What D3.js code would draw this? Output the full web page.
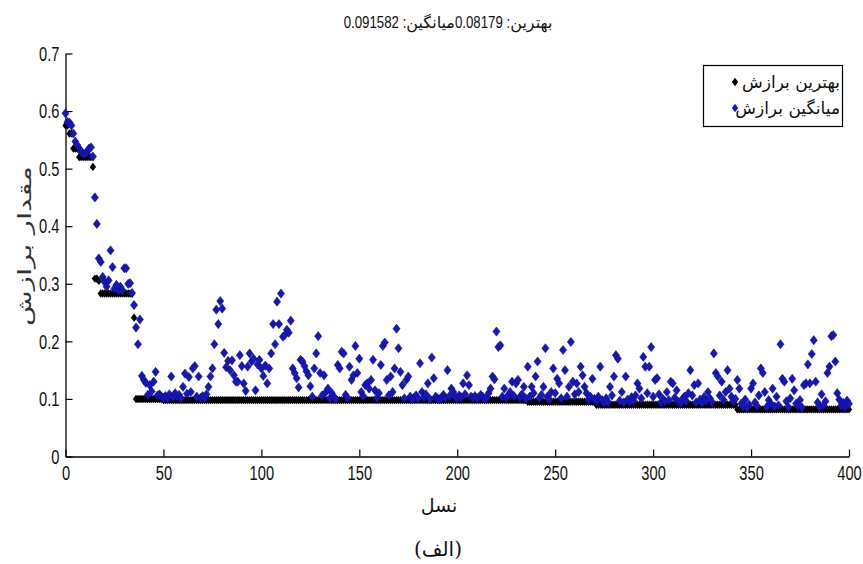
<!DOCTYPE html>
<html><head><meta charset="utf-8">
<script src="https://cdn.jsdelivr.net/npm/d3@7"></script>
<style>body{margin:0;background:#fff}svg{display:block}</style>
</head><body>
<svg id="chart" width="863" height="564"></svg>
<script>
// ---------- data ----------
const xTicks = [0, 50, 100, 150, 200, 250, 300, 350, 400];
const yTicks = [0, 0.1, 0.2, 0.3, 0.4, 0.5, 0.6, 0.7];
const yTickLabels = ["0", "0.1", "0.2", "0.3", "0.4", "0.5", "0.6", "0.7"];
// title "بهترین: 0.08179 میانگین: 0.091582", pieces in on-screen (left-to-right) order
const titleParts = ["0.091582", " :", "میانگین", "0.08179", " :", "بهترین"];
const yLabel = "مقدار برازش";
const xLabel = "نسل";
const caption = "(الف)";
const seriesNames = ["بهترین برازش", "میانگین برازش"];

// best fitness per generation (0..400)
const bestFitness = [
  .575,.575,.561,.561,.535,.535,.535,.520,.520,.520,
  .520,.520,.520,.520,.503,.309,.309,.305,.283,.283,
  .283,.283,.283,.283,.283,.283,.283,.283,.283,.283,
  .283,.283,.283,.283,.283,.241,.100,.100,.100,.100,
  .100,.100,.100,.100,.100,.100,.100,.100,.100,.100,
  .098,.098,.098,.098,.098,.098,.098,.098,.098,.098,
  .098,.098,.098,.098,.098,.098,.098,.098,.098,.098,
  .098,.098,.098,.098,.098,.098,.098,.098,.098,.098,
  .098,.098,.098,.098,.098,.098,.098,.098,.098,.098,
  .098,.098,.098,.098,.098,.098,.098,.098,.098,.098,
  .098,.098,.098,.098,.098,.098,.098,.098,.098,.098,
  .098,.098,.098,.098,.098,.098,.098,.098,.098,.098,
  .098,.098,.098,.098,.098,.098,.098,.098,.098,.098,
  .098,.098,.098,.098,.098,.098,.098,.098,.098,.098,
  .098,.098,.098,.098,.098,.098,.098,.098,.098,.098,
  .098,.098,.098,.098,.098,.098,.098,.098,.098,.098,
  .098,.098,.098,.098,.098,.098,.098,.098,.098,.098,
  .098,.098,.098,.098,.098,.098,.098,.098,.098,.098,
  .098,.098,.098,.098,.098,.098,.098,.098,.098,.098,
  .098,.098,.098,.098,.098,.098,.098,.098,.098,.098,
  .098,.098,.098,.098,.098,.098,.098,.098,.098,.098,
  .098,.098,.098,.098,.098,.098,.098,.098,.098,.098,
  .098,.098,.098,.098,.098,.098,.098,.098,.098,.098,
  .098,.098,.098,.098,.098,.098,.095,.095,.095,.095,
  .095,.095,.095,.095,.095,.095,.095,.095,.095,.095,
  .095,.095,.095,.095,.095,.095,.095,.095,.095,.095,
  .095,.095,.095,.095,.095,.095,.095,.095,.095,.095,
  .095,.090,.090,.090,.090,.090,.090,.090,.090,.090,
  .090,.090,.090,.090,.090,.090,.090,.090,.090,.090,
  .090,.090,.090,.090,.090,.090,.090,.090,.090,.090,
  .090,.090,.090,.090,.090,.090,.090,.090,.090,.090,
  .090,.090,.090,.090,.090,.090,.090,.090,.090,.090,
  .090,.090,.090,.090,.090,.090,.090,.090,.090,.090,
  .090,.090,.090,.090,.090,.090,.090,.090,.090,.090,
  .090,.090,.090,.0818,.0818,.0818,.0818,.0818,.0818,.0818,
  .0818,.0818,.0818,.0818,.0818,.0818,.0818,.0818,.0818,.0818,
  .0818,.0818,.0818,.0818,.0818,.0818,.0818,.0818,.0818,.0818,
  .0818,.0818,.0818,.0818,.0818,.0818,.0818,.0818,.0818,.0818,
  .0818,.0818,.0818,.0818,.0818,.0818,.0818,.0818,.0818,.0818,
  .0818,.0818,.0818,.0818,.0818,.0818,.0818,.0818,.0818,.0818,
  .08179
];

// mean fitness per generation (0..400)
const meanFitness = [
  .596,.581,.580,.575,.561,.547,.541,.535,.529,.526,
  .526,.529,.535,.537,.521,.450,.404,.344,.338,.312,
  .303,.295,.306,.358,.329,.292,.298,.289,.295,.289,
  .327,.327,.300,.301,.284,.263,.224,.195,.238,.140,
  .133,.128,.107,.124,.113,.130,.147,.106,.108,.104,
  .102,.105,.101,.108,.139,.103,.110,.104,.107,.101,
  .121,.144,.109,.138,.112,.153,.157,.104,.139,.102,
  .105,.101,.108,.121,.139,.153,.195,.255,.230,.270,
  .257,.180,.155,.166,.150,.167,.141,.130,.130,.176,
  .157,.127,.114,.156,.179,.165,.170,.115,.160,.168,
  .153,.140,.158,.127,.153,.179,.230,.195,.269,.230,
  .283,.208,.211,.220,.215,.236,.153,.145,.136,.120,
  .168,.165,.157,.148,.141,.122,.104,.153,.179,.209,
  .145,.106,.141,.112,.118,.101,.110,.103,.100,.159,
  .153,.182,.179,.107,.102,.156,.133,.141,.192,.145,
  .170,.112,.105,.124,.127,.118,.133,.168,.115,.102,
  .110,.159,.192,.198,.133,.106,.139,.112,.153,.222,
  .188,.147,.124,.101,.133,.139,.104,.100,.102,.106,
  .101,.162,.112,.103,.108,.127,.100,.172,.136,.104,
  .101,.099,.103,.107,.102,.150,.105,.118,.112,.104,
  .101,.106,.103,.127,.108,.141,.124,.104,.102,.105,
  .101,.103,.107,.104,.100,.102,.110,.118,.139,.134,
  .217,.190,.193,.104,.118,.102,.106,.112,.130,.105,
  .127,.133,.103,.108,.121,.101,.156,.104,.121,.110,
  .139,.165,.102,.107,.121,.188,.104,.099,.112,.153,
  .110,.135,.127,.101,.185,.150,.104,.121,.199,.130,
  .108,.127,.112,.156,.141,.121,.110,.098,.104,.135,
  .100,.096,.104,.156,.098,.093,.101,.095,.121,.106,
  .139,.176,.170,.097,.112,.094,.139,.099,.095,.103,
  .097,.106,.127,.118,.101,.173,.156,.110,.156,.190,
  .104,.133,.136,.108,.094,.100,.096,.112,.098,.130,
  .127,.102,.115,.095,.093,.100,.104,.096,.110,.150,
  .106,.124,.094,.127,.099,.093,.103,.097,.112,.101,
  .095,.179,.145,.139,.106,.130,.098,.112,.150,.118,
  .104,.096,.100,.133,.118,.092,.087,.099,.085,.090,
  .118,.127,.094,.088,.106,.153,.145,.112,.086,.098,
  .092,.118,.087,.104,.089,.195,.135,.130,.096,.086,
  .101,.135,.115,.092,.088,.098,.085,.124,.127,.160,
  .127,.178,.202,.130,.094,.086,.108,.089,.096,.145,
  .156,.209,.211,.165,.110,.099,.088,.093,.086,.097,
  .091582
];

// ---------- drawing ----------
const svg = d3.select("#chart");
const plot = { left: 65.5, right: 849, top: 53.5, bottom: 456.5 };

const x = d3.scaleLinear().domain([0, 400]).range([plot.left, plot.right]);
const y = d3.scaleLinear().domain([0, 0.7]).range([plot.bottom, plot.top]);

const numFont = "'Liberation Sans', Arial, sans-serif";
const faFont = "'DejaVu Sans', 'Noto Sans', sans-serif";
const squeeze = 0.7;

function diamond(w, h) { return `M0,${-h}L${w},0L0,${h}L${-w},0Z`; }

// axes
const xAxis = d3.axisBottom(x).tickValues(xTicks).tickFormat(d3.format("d"))
  .tickSizeInner(-7).tickSizeOuter(0).tickPadding(9);
const yAxis = d3.axisLeft(y).tickValues(yTicks).tickFormat((d, i) => yTickLabels[i])
  .tickSizeInner(-7).tickSizeOuter(0).tickPadding(6);

const gx = svg.append("g").attr("transform", `translate(0,${plot.bottom})`).call(xAxis);
const gy = svg.append("g").attr("transform", `translate(${plot.left},0)`).call(yAxis);

[gx, gy].forEach(g => {
  g.select(".domain").attr("stroke", "#000").attr("stroke-width", 1.3);
  g.selectAll(".tick line").attr("stroke", "#000").attr("stroke-width", 1.2);
  g.selectAll(".tick text").attr("fill", "#111")
    .style("font-family", numFont).style("font-size", "21px");
});
gx.selectAll(".tick text").each(function () {
  const t = d3.select(this);
  const yy = +t.attr("y");
  t.attr("y", 0).attr("transform", `translate(0,${yy}) scale(${squeeze},1)`);
});
gy.selectAll(".tick text").each(function () {
  const t = d3.select(this);
  const xx = +t.attr("x");
  t.attr("x", 0).attr("transform", `translate(${xx},0) scale(${squeeze},1)`);
});

// series
const gens = bestFitness.map((_, i) => i);
svg.append("g").selectAll("path").data(gens).join("path")
  .attr("d", diamond(3.2, 4.2))
  .attr("transform", i => `translate(${x(i)},${y(bestFitness[i])})`)
  .attr("fill", "#000");

const blue = "#1717b8";
svg.append("g").selectAll("path").data(gens).join("path")
  .attr("d", diamond(3.6, 4.6))
  .attr("transform", i => `translate(${x(i)},${y(meanFitness[i])})`)
  .attr("fill", blue).attr("stroke", "#0c0c85").attr("stroke-width", 0.5);

// title: single-direction pieces laid out left to right, centred on the plot
const tg = svg.append("g");
const isLatin = s => /^[0-9 .:]+$/.test(s);
const titleSqueeze = 0.78;
let cursor = 0;
const placed = titleParts.map(p => {
  const latin = isLatin(p);
  const t = tg.append("text").attr("y", 28).attr("fill", "#111")
    .style("white-space", "pre")
    .style("font-family", latin ? numFont : faFont)
    .style("font-size", latin ? "17px" : "16px")
    .text(p);
  const sx = latin ? titleSqueeze : 1;
  const w = t.node().getComputedTextLength() * sx;
  const pos = cursor;
  cursor += w;
  return { t, pos, sx };
});
const titleStart = 448 - cursor / 2;
placed.forEach(({ t, pos, sx }) => {
  t.attr("x", 0).attr("transform", `translate(${titleStart + pos},0) scale(${sx},1)`);
});

// y label
svg.append("text")
  .attr("transform", `translate(31,246) rotate(-90)`)
  .attr("text-anchor", "middle")
  .attr("textLength", 160).attr("lengthAdjust", "spacingAndGlyphs")
  .style("font-family", faFont).style("font-size", "18px").attr("fill", "#333")
  .text(yLabel);

// x label
svg.append("text")
  .attr("x", 439).attr("y", 512).attr("text-anchor", "middle")
  .style("font-family", faFont).style("font-size", "19px").attr("fill", "#111")
  .text(xLabel);

// caption
svg.append("text")
  .attr("x", 438).attr("y", 556).attr("text-anchor", "middle")
  .style("font-family", "'DejaVu Serif', 'DejaVu Sans', serif").style("font-size", "20px").attr("fill", "#111")
  .text(caption);

// legend
const lg = svg.append("g");
lg.append("rect").attr("x", 703.5).attr("y", 65.5).attr("width", 139).attr("height", 61)
  .attr("fill", "#fff").attr("stroke", "#000").attr("stroke-width", 1.2);
const legendColors = ["#000", blue];
seriesNames.forEach((name, i) => {
  const cy = 82 + i * 26;
  lg.append("path").attr("d", diamond(3.2, 4.2))
    .attr("transform", `translate(735,${cy})`).attr("fill", legendColors[i]);
  lg.append("text").attr("x", 840).attr("y", cy + 6)
    .attr("text-anchor", "end")
    .style("font-family", faFont).style("font-size", "17px").attr("fill", "#111")
    .text(name);
});
</script>
</body></html>
